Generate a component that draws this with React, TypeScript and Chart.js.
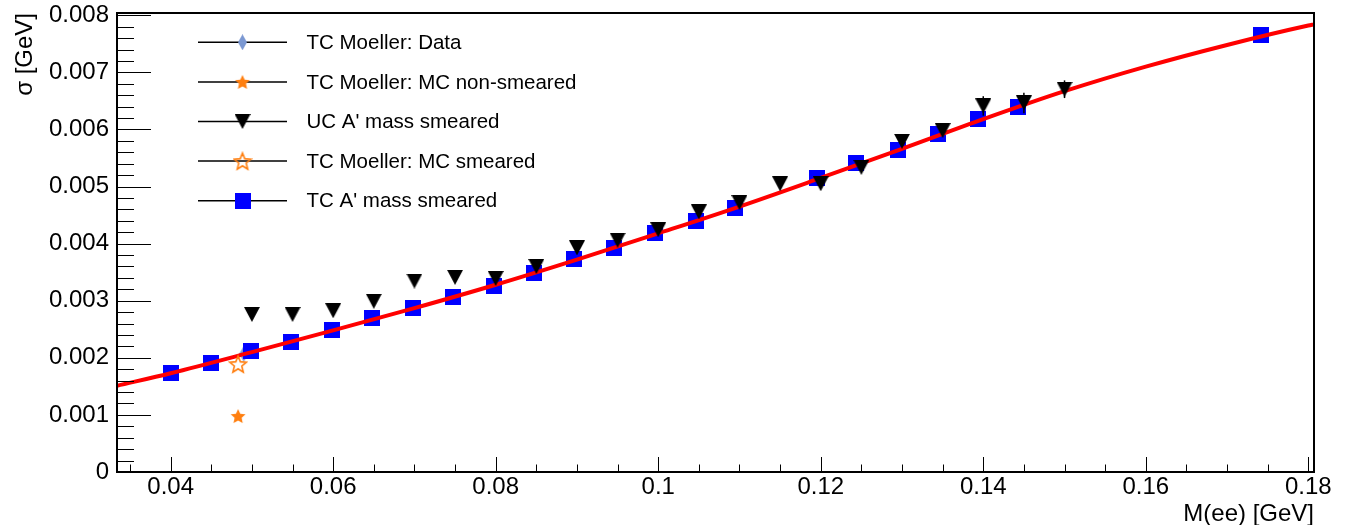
import React, { useEffect, useRef } from "react";
import { Chart, registerables } from "chart.js";

Chart.register(...registerables);

// ---------------- data ----------------
// TC A' mass smeared (blue squares)
const tcMass = [0.0401, 0.045, 0.0499, 0.0548, 0.0598, 0.0648, 0.0698, 0.0747, 0.0798, 0.0847, 0.0896, 0.0946, 0.0996, 0.1046, 0.1095, 0.1195, 0.1244, 0.1295, 0.1344, 0.1394, 0.1443, 0.1742];
const tcSigma = [0.001742, 0.001918, 0.002123, 0.002281, 0.002479, 0.00269, 0.002865, 0.003058, 0.003263, 0.003479, 0.003723, 0.003916, 0.004179, 0.004404, 0.004632, 0.005143, 0.005407, 0.005632, 0.005915, 0.006179, 0.00639, 0.007655];

// UC A' mass smeared (black down triangles)
const ucMass = [0.05, 0.055, 0.06, 0.065, 0.07, 0.075, 0.08, 0.085, 0.09, 0.095, 0.1, 0.105, 0.11, 0.115, 0.12, 0.125, 0.13, 0.135, 0.14, 0.145, 0.15];
const ucSigma = [0.00276, 0.00276, 0.002825, 0.00299, 0.003345, 0.00341, 0.00339, 0.0036, 0.003926, 0.00406, 0.004243, 0.004556, 0.004719, 0.005047, 0.00505, 0.005337, 0.005793, 0.00598, 0.006412, 0.006465, 0.006705];
const ucErr = [0, 0, 0, 0, 0, 0, 0, 0, 0, 0, 0, 0, 0, 0, 0, 0, 0, 0, 0.00017, 0.00018, 0.000155];

// TC Moeller points
const dataMass = [0.049];
const dataSigma = [0.00207];
const mcNonSmearedMass = [0.0483];
const mcNonSmearedSigma = [0.00098];
const mcSmearedMass = [0.0483];
const mcSmearedSigma = [0.00189];

// Fit curve (red)
const fitMass = [0.0334, 0.04, 0.05, 0.06, 0.07, 0.08, 0.09, 0.1, 0.11, 0.12, 0.13, 0.14, 0.15, 0.16, 0.17, 0.18, 0.1807];
const fitSigma = [0.00151, 0.00173, 0.0021, 0.00248, 0.00287, 0.00328, 0.00372, 0.00418, 0.00465, 0.00515, 0.00566, 0.00618, 0.00667, 0.0071, 0.00748, 0.00782, 0.00784];

const legendLabels = [
  "TC Moeller: Data",
  "TC Moeller: MC non-smeared",
  "UC A' mass smeared",
  "TC Moeller: MC smeared",
  "TC A' mass smeared",
];

const xTitle = "M(ee) [GeV]";
const yTitle = "σ [GeV]";

const X_MIN = 0.0334;
const X_MAX = 0.1807;
const Y_MIN = 0;
const Y_MAX = 0.00804;
const X_MAJOR = 0.02;
const X_MINOR = 0.005;
const Y_MAJOR = 0.001;
const Y_MINOR = 0.0002;

const FONT = "'Liberation Sans', Arial, Helvetica, sans-serif";

function makeMarker(w: number, h: number, draw: (c: CanvasRenderingContext2D) => void) {
  const cv = document.createElement("canvas");
  cv.width = w;
  cv.height = h;
  const c = cv.getContext("2d")!;
  draw(c);
  return cv;
}

function starPath(c: CanvasRenderingContext2D, cx: number, cy: number, R: number, r: number) {
  c.beginPath();
  for (let i = 0; i < 10; i++) {
    const ang = -Math.PI / 2 + (i * Math.PI) / 5;
    const rad = i % 2 === 0 ? R : r;
    const px = cx + rad * Math.cos(ang);
    const py = cy + rad * Math.sin(ang);
    if (i === 0) c.moveTo(px, py);
    else c.lineTo(px, py);
  }
  c.closePath();
}

const xy = (xs: number[], ys: number[]) => xs.map((x, i) => ({ x, y: ys[i] }));

export default function App() {
  const ref = useRef<HTMLCanvasElement>(null);

  useEffect(() => {
    const canvas = ref.current!;
    const orange = "#ff7f10";

    const square = makeMarker(16, 16, (c) => {
      c.fillStyle = "#0000ff";
      c.fillRect(0, 0, 16, 16);
    });
    const tri = makeMarker(16, 15, (c) => {
      c.fillStyle = "#000000";
      c.beginPath();
      c.moveTo(0, 0);
      c.lineTo(16, 0);
      c.lineTo(8, 15);
      c.closePath();
      c.fill();
    });
    const starFilled = makeMarker(16, 16, (c) => {
      c.fillStyle = orange;
      starPath(c, 8, 8.7, 7.8, 3.7);
      c.fill();
    });
    const starOpen = makeMarker(20, 20, (c) => {
      c.strokeStyle = orange;
      c.lineWidth = 1.6;
      starPath(c, 10, 10.8, 8.8, 3.9);
      c.stroke();
    });
    const diamond = makeMarker(9, 16, (c) => {
      c.fillStyle = "#7b98d2";
      c.beginPath();
      c.moveTo(4.5, 0);
      c.lineTo(9, 8);
      c.lineTo(4.5, 16);
      c.lineTo(0, 8);
      c.closePath();
      c.fill();
    });

    const legendMarkers = [diamond, starFilled, tri, starOpen, square];

    const decor = {
      id: "decor",
      afterDatasetsDraw(chart: any) {
        const ctx: CanvasRenderingContext2D = chart.ctx;
        const a = chart.chartArea;
        const xs = chart.scales.x;
        const ys = chart.scales.y;
        ctx.save();

        // error bars on UC points
        ctx.strokeStyle = "#000";
        ctx.lineWidth = 1.5;
        ucMass.forEach((m, i) => {
          const e = ucErr[i];
          if (!e) return;
          const px = xs.getPixelForValue(m);
          ctx.beginPath();
          ctx.moveTo(px, ys.getPixelForValue(ucSigma[i] - e));
          ctx.lineTo(px, ys.getPixelForValue(ucSigma[i] + e));
          ctx.stroke();
        });

        // ticks
        ctx.lineWidth = 1;
        ctx.strokeStyle = "#000";
        ctx.beginPath();
        const nY = Math.round((Y_MAX - Y_MIN) / Y_MINOR) + 1;
        for (let k = 0; k < nY; k++) {
          const v = Y_MIN + k * Y_MINOR;
          if (v > Y_MAX + 1e-12) break;
          const major = k % Math.round(Y_MAJOR / Y_MINOR) === 0;
          const py = Math.round(ys.getPixelForValue(v)) + 0.5;
          ctx.moveTo(a.left, py);
          ctx.lineTo(a.left + (major ? 34 : 17), py);
        }
        const x0 = Math.ceil(X_MIN / X_MINOR - 1e-9) * X_MINOR;
        for (let k = 0; ; k++) {
          const v = x0 + k * X_MINOR;
          if (v > X_MAX + 1e-12) break;
          const r = v / X_MAJOR;
          const major = Math.abs(r - Math.round(r)) < 1e-6;
          const px = Math.round(xs.getPixelForValue(v)) + 0.5;
          ctx.moveTo(px, a.bottom);
          ctx.lineTo(px, a.bottom - (major ? 15 : 7.5));
        }
        ctx.stroke();

        // frame
        ctx.lineWidth = 2;
        ctx.strokeRect(a.left, a.top, a.right - a.left, a.bottom - a.top);

        // axis titles
        ctx.fillStyle = "#000";
        ctx.font = `24px ${FONT}`;
        ctx.textAlign = "right";
        ctx.textBaseline = "alphabetic";
        ctx.fillText(xTitle, a.right, 521);
        ctx.save();
        ctx.translate(32, a.top);
        ctx.rotate(-Math.PI / 2);
        ctx.textAlign = "right";
        ctx.fillText(yTitle, 0, 0);
        ctx.restore();

        // legend
        ctx.font = `20.5px ${FONT}`;
        ctx.textAlign = "left";
        ctx.textBaseline = "middle";
        legendLabels.forEach((lab, i) => {
          const cy = 42.3 + i * 39.6;
          ctx.strokeStyle = "#000";
          ctx.lineWidth = 1.5;
          ctx.beginPath();
          ctx.moveTo(198, cy);
          ctx.lineTo(287, cy);
          ctx.stroke();
          const mk = legendMarkers[i];
          ctx.drawImage(mk, 242.5 - mk.width / 2, cy - mk.height / 2);
          ctx.fillStyle = "#000";
          ctx.fillText(lab, 306.5, cy + 1);
        });

        ctx.restore();
      },
    };

    const chart = new Chart(canvas, {
      type: "scatter",
      data: {
        datasets: [
          {
            label: legendLabels[2],
            data: xy(ucMass, ucSigma),
            pointStyle: tri as any,
            pointRadius: 8,
            showLine: false,
            order: 0,
          },
          {
            label: legendLabels[3],
            data: xy(mcSmearedMass, mcSmearedSigma),
            pointStyle: starOpen as any,
            pointRadius: 9,
            showLine: false,
            order: 1,
          },
          {
            label: legendLabels[1],
            data: xy(mcNonSmearedMass, mcNonSmearedSigma),
            pointStyle: starFilled as any,
            pointRadius: 8,
            showLine: false,
            order: 1,
          },
          {
            label: "fit",
            data: xy(fitMass, fitSigma),
            showLine: true,
            borderColor: "#ff0000",
            borderWidth: 4,
            pointRadius: 0,
            cubicInterpolationMode: "monotone",
            order: 2,
          } as any,
          {
            label: legendLabels[4],
            data: xy(tcMass, tcSigma),
            pointStyle: square as any,
            pointRadius: 8,
            showLine: false,
            order: 3,
          },
          {
            label: legendLabels[0],
            data: xy(dataMass, dataSigma),
            pointStyle: diamond as any,
            pointRadius: 8,
            showLine: false,
            order: 4,
          },
        ],
      },
      options: {
        responsive: false,
        animation: false,
        events: [],
        layout: { padding: { left: 0, top: 13, right: 32, bottom: 0 } },
        plugins: {
          legend: { display: false },
          tooltip: { enabled: false },
          title: { display: false },
        },
        scales: {
          x: {
            type: "linear",
            min: X_MIN,
            max: X_MAX,
            border: { display: false },
            grid: { display: false, drawTicks: false },
            afterFit: (s: any) => {
              s.height = 53;
              s.paddingLeft = 0;
              s.paddingRight = 0;
            },
            ticks: {
              stepSize: X_MAJOR,
              includeBounds: false,
              autoSkip: false,
              maxRotation: 0,
              minRotation: 0,
              padding: 3,
              color: "#000",
              font: { family: FONT, size: 24, lineHeight: 1 },
              callback: (v: any) => String(Math.round(Number(v) * 100) / 100),
            },
          },
          y: {
            type: "linear",
            min: Y_MIN,
            max: Y_MAX,
            border: { display: false },
            grid: { display: false, drawTicks: false },
            afterFit: (s: any) => {
              s.width = 117;
              s.paddingTop = 0;
              s.paddingBottom = 0;
            },
            ticks: {
              stepSize: Y_MAJOR,
              includeBounds: false,
              autoSkip: false,
              padding: 8,
              color: "#000",
              font: { family: FONT, size: 24, lineHeight: 1 },
              callback: (v: any) => String(Math.round(Number(v) * 1000) / 1000),
            },
          },
        },
      } as any,
      plugins: [decor as any],
    });

    return () => chart.destroy();
  }, []);

  return (
    <div style={{ position: "fixed", left: 0, top: 0, width: 1346, height: 525, background: "#fff" }}>
      <canvas ref={ref} width={1346} height={525} style={{ width: 1346, height: 525, display: "block" }} />
    </div>
  );
}
